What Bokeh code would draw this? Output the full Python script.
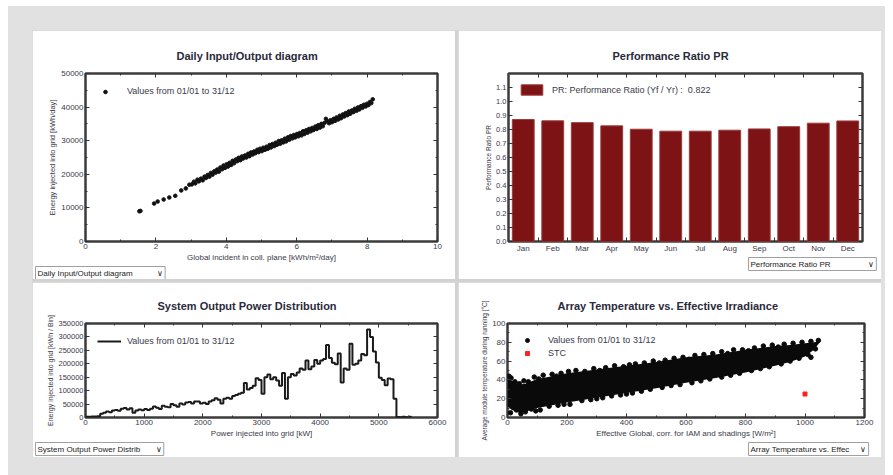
from bokeh.plotting import figure
from bokeh.layouts import column, row
from bokeh.models import (LinearAxis, SingleIntervalTicker, FixedTicker, NumeralTickFormatter,
                          BasicTickFormatter, CustomJSTickFormatter, Legend, LegendItem, Title, Range1d)
from bokeh.embed import file_html
from bokeh.resources import INLINE

FONT = "Liberation Sans"

# ---------------- data ----------------
# Panel 1: daily input/output
daily_irr = [1.53, 1.56, 1.95, 2.05, 2.22, 2.38, 2.55, 2.72, 2.85, 2.95,
             3.02, 3.08, 3.12, 3.18, 3.22, 3.28, 3.33, 3.38, 3.42, 3.47, 3.52, 3.56, 3.61, 3.66, 3.7,
             3.74, 3.79, 3.83, 3.88, 3.92, 3.96, 4.01, 4.05, 4.09, 4.14, 4.18, 4.22, 4.27, 4.31, 4.35,
             4.4, 4.44, 4.48, 4.53, 4.57, 4.62, 4.66, 4.7, 4.75, 4.79, 4.83, 4.88, 4.92, 4.96, 5.01,
             5.05, 5.1, 5.14, 5.18, 5.23, 5.27, 5.31, 5.36, 5.4, 5.44, 5.49, 5.53, 5.57, 5.62, 5.66,
             5.7, 5.75, 5.79, 5.83, 5.88, 5.92, 5.96, 6.01, 6.05, 6.09, 6.14, 6.18, 6.22, 6.27, 6.31,
             6.35, 6.4, 6.44, 6.48, 6.53, 6.57, 6.61, 6.66, 6.7, 6.74, 6.79, 6.83, 6.87, 6.92, 6.96,
             7.0, 7.05, 7.09, 7.13, 7.18, 7.22, 7.26, 7.31, 7.35, 7.39, 7.44, 7.48, 7.52, 7.57, 7.61,
             7.65, 7.7, 7.74, 7.78, 7.83, 7.87, 7.91, 7.96, 8.0, 8.04, 8.08, 8.12, 8.16]
daily_energy = [9000, 9100, 11300, 11900, 12500, 13100, 13600, 15200, 15800, 16900,
                17000, 17800, 17300, 18400, 17900, 18700, 18200, 19300, 18900, 19800, 19300, 20400, 19900, 20900, 20500,
                21400, 20800, 22000, 21500, 22600, 21900, 23000, 22300, 23400, 22800, 24000, 23300, 24400, 23900, 24900,
                24200, 25300, 24700, 25600, 25000, 26100, 25400, 26500, 25900, 26800, 26300, 27300, 26600, 27600, 26900,
                27900, 27300, 28200, 27600, 28700, 28000, 29000, 28400, 29400, 28800, 29900, 29100, 30100, 29500, 30600,
                29800, 31000, 30300, 31400, 30700, 31700, 31000, 32000, 31300, 32300, 31600, 32800, 32000, 33100, 32400,
                33500, 32800, 33800, 33200, 34200, 33500, 34600, 33900, 35000, 34300, 35300, 36500, 35800, 35200, 36100,
                35500, 36500, 35900, 36900, 36300, 37400, 36700, 37800, 37200, 38200, 37600, 38700, 38000, 39000, 38500,
                39500, 38900, 39900, 39300, 40300, 39800, 40700, 40200, 41000, 40600, 41500, 41200, 42300]

# Panel 2: monthly performance ratio
months = ["Jan", "Feb", "Mar", "Apr", "May", "Jun", "Jul", "Aug", "Sep", "Oct", "Nov", "Dec"]
pr_values = [0.871, 0.862, 0.849, 0.826, 0.802, 0.788, 0.788, 0.795, 0.804, 0.820, 0.845, 0.861]
pr_year = 0.822

# Panel 3: output power distribution (50 kW bins)
power_bins = [0, 50, 100, 150, 200, 250, 300, 350, 400, 450, 500, 550, 600, 650, 700, 750, 800, 850, 900, 950,
              1000, 1050, 1100, 1150, 1200, 1250, 1300, 1350, 1400, 1450, 1500, 1550, 1600, 1650, 1700, 1750,
              1800, 1850, 1900, 1950, 2000, 2050, 2100, 2150, 2200, 2250, 2300, 2350, 2400, 2450, 2500, 2550,
              2600, 2650, 2700, 2750, 2800, 2850, 2900, 2950, 3000, 3050, 3100, 3150, 3200, 3250, 3300, 3350,
              3400, 3450, 3500, 3550, 3600, 3650, 3700, 3750, 3800, 3850, 3900, 3950, 4000, 4050, 4100, 4150,
              4200, 4250, 4300, 4350, 4400, 4450, 4500, 4550, 4600, 4650, 4700, 4750, 4800, 4850, 4900, 4950,
              5000, 5050, 5100, 5150, 5200, 5250, 5300, 5350, 5400, 5450, 5500, 5550]
bin_energy = [3000, 3000, 4000, 4000, 5000, 14000, 18000, 22000, 20000, 26000, 28000, 25000, 33000, 35000,
              30000, 34000, 18000, 26000, 30000, 27000, 32000, 28000, 33000, 41000, 36000, 32000, 44000, 40000,
              38000, 50000, 46000, 40000, 52000, 48000, 56000, 58000, 52000, 60000, 60000, 52000, 55000, 50000,
              60000, 64000, 72000, 66000, 52000, 70000, 74000, 70000, 80000, 84000, 88000, 92000, 128000, 104000,
              110000, 118000, 146000, 140000, 88000, 150000, 160000, 142000, 150000, 138000, 118000, 166000,
              70000, 150000, 162000, 156000, 168000, 182000, 178000, 212000, 180000, 190000, 214000, 200000,
              212000, 218000, 270000, 222000, 204000, 198000, 238000, 130000, 182000, 178000, 275000, 196000,
              200000, 212000, 236000, 232000, 328000, 300000, 246000, 205000, 148000, 140000, 120000, 145000,
              142000, 70000, 2000, 1000, 3000, 1000, 3000, 1000]

# Panel 4: array temperature vs effective irradiance (envelope of the dense cloud + edge points)
cloud_irr = [0, 15, 40, 60, 100, 150, 200, 300, 400, 500, 600, 700, 800, 900, 950, 1000, 1030, 1050]
cloud_t_low = [12, 8, 5, 6, 10, 13, 16, 21, 26, 31, 37, 42, 48, 55, 59, 65, 72, 80]
cloud_t_high = [41, 39, 35, 36, 41, 44, 47, 51, 55, 59, 64, 67, 72, 76, 77, 79, 80, 81]
edge_irr = [5, 12, 25, 40, 55, 70, 90, 105, 120, 150, 165, 180, 205, 230, 260, 290, 310, 330, 360, 390,
            410, 430, 460, 490, 510, 530, 560, 590, 610, 630, 660, 690, 720, 740, 760, 790, 810, 830,
            860, 890, 910, 930, 960, 990, 1020, 1045,
            10, 30, 45, 60, 80, 95, 110, 140, 170, 190, 210, 250, 280, 300, 320, 350, 380, 400, 420, 450,
            480, 520, 550, 580, 620, 650, 680, 720, 750, 780, 820, 850, 880, 920, 950, 980, 1010, 1035, 1020]
edge_temp = [44, 42, 38, 36, 39, 38, 43, 41, 45, 46, 44, 47, 49, 50, 49, 52, 50, 53, 55, 54,
             56, 57, 58, 60, 58, 61, 63, 64, 62, 66, 67, 68, 70, 68, 72, 72, 71, 74,
             76, 77, 75, 78, 79, 80, 81, 82,
             5, 8, 4, 6, 9, 7, 8, 12, 13, 14, 14, 18, 19, 20, 21, 23, 24, 25, 26, 28,
             30, 32, 34, 35, 37, 39, 41, 43, 45, 47, 50, 52, 54, 57, 60, 63, 67, 73, 64]
stc_irr = [1000]
stc_temp = [25]


# ---------------- helpers ----------------
EMPTY = CustomJSTickFormatter(code="return '';")


def style_axis(ax, major_in=4, minor_in=2):
    ax.axis_line_color = None
    ax.major_tick_in = major_in
    ax.major_tick_out = 0
    ax.minor_tick_in = minor_in
    ax.minor_tick_out = 0
    ax.major_tick_line_color = "#333333"
    ax.minor_tick_line_color = "#333333"
    ax.major_tick_line_width = 1
    ax.major_label_text_font = FONT
    ax.major_label_text_font_size = "8px"
    ax.major_label_text_color = "#3a3a4a"
    ax.major_label_standoff = 2
    ax.axis_label_text_font = FONT
    ax.axis_label_text_font_size = "8px"
    ax.axis_label_text_font_style = "normal"
    ax.axis_label_text_color = "#3a3a4a"
    ax.axis_label_standoff = 1


def make_fig(fw, fh, left, right, top, bottom, xr, yr, title, toff):
    p = figure(frame_width=fw, frame_height=fh, min_border_left=left, min_border_right=right,
               min_border_top=top, min_border_bottom=bottom, x_range=xr, y_range=yr,
               output_backend="svg", toolbar_location=None, title=title)
    p.title.text_font = FONT
    p.title.text_font_size = "11px"
    p.title.text_font_style = "bold"
    p.title.text_color = "#2a2a3a"
    p.title.align = "left"
    p.title.offset = toff
    p.title.standoff = 24
    p.xgrid.visible = False
    p.ygrid.visible = False
    p.outline_line_color = "#3c3c3c"
    p.outline_line_width = 2.5
    p.border_fill_color = "white"
    p.background_fill_color = "white"
    return p


def add_mirror_axes(p, xticker, yticker):
    top = LinearAxis(ticker=xticker, formatter=EMPTY)
    style_axis(top)
    right = LinearAxis(ticker=yticker, formatter=EMPTY)
    style_axis(right)
    p.add_layout(top, "above")
    p.add_layout(right, "right")
    return top, right


def dropdown(p, text, offset):
    # a drop-down selector look-alike, drawn as a boxed title under the x axis
    p.add_layout(Title(text=text, align="left", offset=offset, standoff=0,
                       text_font=FONT, text_font_size="8px", text_font_style="normal",
                       text_color="#222222", background_fill_color="white",
                       border_line_color="#a0a0a0", border_line_width=1, padding=2), "below")


def style_legend(lg, gw, gh, lh, margin, padding, standoff):
    lg.location = "top_left"
    lg.border_line_alpha = 0
    lg.background_fill_alpha = 0
    lg.label_text_font = FONT
    lg.label_text_font_size = "9px"
    lg.label_text_color = "#3a3a4a"
    lg.glyph_width = gw
    lg.glyph_height = gh
    lg.label_height = lh
    lg.margin = margin
    lg.padding = padding
    lg.label_standoff = standoff
    lg.spacing = 0


NB = "\u00a0"

# ---------------- panel 1 ----------------
p1 = make_fig(352, 168, 53, 18, 43, 38, Range1d(0, 10), Range1d(0, 50000),
              "Daily Input/Output diagram", 91)
p1.xaxis.ticker = SingleIntervalTicker(interval=2, num_minor_ticks=2)
p1.yaxis.ticker = SingleIntervalTicker(interval=10000, num_minor_ticks=2)
p1.yaxis.formatter = BasicTickFormatter(use_scientific=False)
style_axis(p1.xaxis[0])
style_axis(p1.yaxis[0])
p1.xaxis.axis_label = "Global incident in coll. plane [kWh/m²/day]"
p1.yaxis.axis_label = "Energy injected into grid [kWh/day]"
p1.yaxis.axis_label_text_font_size = "7.5px"
add_mirror_axes(p1, SingleIntervalTicker(interval=2, num_minor_ticks=2),
                SingleIntervalTicker(interval=10000, num_minor_ticks=2))
r1 = p1.scatter(daily_irr, daily_energy, size=3.6, marker="circle", fill_color="#111111",
                line_color="#111111")
lg1 = Legend(items=[LegendItem(label="Values from 01/01 to 31/12", renderers=[r1])])
style_legend(lg1, 20, 9, 16, 6, 4, 12)
p1.add_layout(lg1, "center")
dropdown(p1, "Daily Input/Output diagram" + NB * 11 + "\u2228", -50)

# ---------------- panel 2 ----------------
month_centers = [i + 0.5 for i in range(len(months))]
p2 = make_fig(354, 168, 50, 19, 43, 38, Range1d(0, 12), Range1d(0, 1.2),
              "Performance Ratio PR", 104)
p2.xaxis.ticker = FixedTicker(ticks=month_centers, minor_ticks=list(range(1, 12)))
p2.xaxis.major_label_overrides = {c: m for c, m in zip(month_centers, months)}
style_axis(p2.xaxis[0], major_in=0, minor_in=4)
p2.yaxis.ticker = SingleIntervalTicker(interval=0.1, num_minor_ticks=0)
p2.yaxis.formatter = NumeralTickFormatter(format="0.0")
style_axis(p2.yaxis[0])
p2.yaxis.major_label_text_font_size = "7.5px"
p2.yaxis.axis_label = "Performance Ratio PR"
p2.yaxis.axis_label_text_font_size = "6.5px"
t2, rt2 = add_mirror_axes(p2, FixedTicker(ticks=month_centers, minor_ticks=list(range(1, 12))),
                          SingleIntervalTicker(interval=0.1, num_minor_ticks=0))
t2.major_tick_in = 0
t2.minor_tick_in = 4
r2 = p2.vbar(x=month_centers, top=pr_values, width=0.74, fill_color="#7d1315", line_color="#9a3a3a",
             line_width=1)
lg2 = Legend(items=[LegendItem(label="PR: Performance Ratio (Yf / Yr) :  %.3f" % pr_year, renderers=[r2])])
style_legend(lg2, 27, 13, 13, 6, 4, 7)
p2.add_layout(lg2, "center")
dropdown(p2, "Performance Ratio PR" + NB * 17 + "\u2228", 240)

# ---------------- panel 3 ----------------
p3 = make_fig(352, 94, 53, 18, 41, 40, Range1d(0, 6000), Range1d(0, 350000),
              "System Output Power Distribution", 72)
p3.xaxis.ticker = SingleIntervalTicker(interval=1000, num_minor_ticks=2)
p3.yaxis.ticker = SingleIntervalTicker(interval=50000, num_minor_ticks=0)
p3.yaxis.formatter = BasicTickFormatter(use_scientific=False)
style_axis(p3.xaxis[0])
style_axis(p3.yaxis[0])
p3.yaxis.major_label_text_font_size = "7.5px"
p3.xaxis.axis_label = "Power injected into grid [kW]"
p3.yaxis.axis_label = "Energy injected into grid [kWh / Bin]"
p3.yaxis.axis_label_text_font_size = "7px"
add_mirror_axes(p3, SingleIntervalTicker(interval=1000, num_minor_ticks=2),
                SingleIntervalTicker(interval=50000, num_minor_ticks=0))
r3 = p3.step(power_bins, bin_energy, mode="after", line_width=2, line_color="#1a1a1a")
lg3 = Legend(items=[LegendItem(label="Values from 01/01 to 31/12", renderers=[r3])])
style_legend(lg3, 24, 12, 12, 6, 6, 6)
p3.add_layout(lg3, "center")
dropdown(p3, "System Output Power Distrib" + NB * 7 + "\u2228", -50)

# ---------------- panel 4 ----------------
p4 = make_fig(357, 94, 49, 17, 41, 40, Range1d(0, 1200), Range1d(0, 100),
              "Array Temperature vs. Effective Irradiance", 50)
p4.xaxis.ticker = SingleIntervalTicker(interval=200, num_minor_ticks=2)
p4.yaxis.ticker = SingleIntervalTicker(interval=20, num_minor_ticks=2)
style_axis(p4.xaxis[0])
style_axis(p4.yaxis[0])
p4.xaxis.axis_label = "Effective Global, corr. for IAM and shadings [W/m²]"
p4.yaxis.axis_label = "Average module temperature during running [°C]"
p4.yaxis.axis_label_text_font_size = "6.5px"
add_mirror_axes(p4, SingleIntervalTicker(interval=200, num_minor_ticks=2),
                SingleIntervalTicker(interval=20, num_minor_ticks=2))
p4.varea(x=cloud_irr, y1=cloud_t_low, y2=cloud_t_high, fill_color="#0a0a0a")
r4 = p4.scatter(edge_irr, edge_temp, size=4.5, marker="circle", fill_color="#0a0a0a", line_color="#0a0a0a")
r5 = p4.scatter(stc_irr, stc_temp, size=4, marker="square", fill_color="#ff2020", line_color="#ff2020")
lg4 = Legend(items=[LegendItem(label="Values from 01/01 to 31/12", renderers=[r4]),
                    LegendItem(label="STC", renderers=[r5])])
style_legend(lg4, 20, 10, 13, 6, 4, 11)
p4.add_layout(lg4, "center")
dropdown(p4, "Array Temperature vs. Effec" + NB * 5 + "\u2228", 241)

inner = column(row(p1, p2, spacing=3), row(p3, p4, spacing=3), spacing=3,
               margin=(24, 0, 0, 24), styles={"background-color": "#d2d2d2"})
root = column(inner, width=877, height=469, margin=(6, 0, 0, 8),
              styles={"background-color": "#e1e1e1"})

open("out.html", "w").write(file_html(root, INLINE))
